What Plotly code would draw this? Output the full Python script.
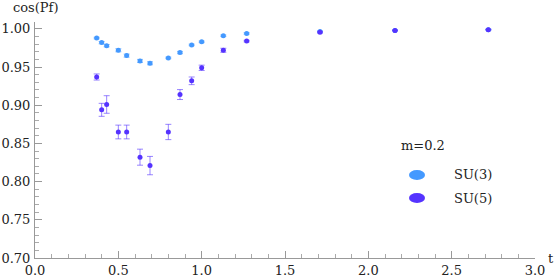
import plotly.graph_objects as go

t = [0.37, 0.40, 0.43, 0.50, 0.55, 0.63, 0.69, 0.80, 0.87, 0.94, 1.00, 1.13, 1.27, 1.71, 2.16, 2.72]
su3 = [0.988, 0.982, 0.978, 0.972, 0.965, 0.958, 0.955, 0.962, 0.969, 0.979, 0.983, 0.991, 0.994, 0.9965, 0.998, 0.999]
su3_err = [0.001, 0.0015, 0.0015, 0.002, 0.002, 0.002, 0.002, 0.001, 0.0015, 0.001, 0.001, 0.001, 0.001, 0.001, 0.0005, 0.0005]
su5 = [0.937, 0.894, 0.901, 0.865, 0.865, 0.832, 0.821, 0.865, 0.914, 0.932, 0.949, 0.972, 0.984, 0.9955, 0.998, 0.999]
su5_err = [0.004, 0.0085, 0.0115, 0.009, 0.009, 0.0105, 0.012, 0.01, 0.0065, 0.005, 0.0035, 0.0026, 0.001, 0.001, 0.0005, 0.0005]

c3 = "#4499ff"
c5 = "#5533ff"
font = "DejaVu Serif, Liberation Serif, serif"
fs = 13

fig = go.Figure()
fig.add_trace(go.Scatter(
    x=t, y=su3, mode="markers", name="SU(3)", showlegend=False,
    marker=dict(color=c3, size=5),
    error_y=dict(type="data", array=su3_err, color="rgba(68,153,255,0.6)", thickness=1, width=3),
))
fig.add_trace(go.Scatter(
    x=t, y=su5, mode="markers", name="SU(5)", showlegend=False,
    marker=dict(color=c5, size=5),
    error_y=dict(type="data", array=su5_err, color="rgba(85,51,255,0.6)", thickness=1, width=3),
))

axis_common = dict(
    showline=True, linecolor="#999999", linewidth=1,
    ticks="inside", tickcolor="#999999", ticklen=7, tickwidth=1,
    showgrid=False, zeroline=False, automargin=False,
    tickfont=dict(family=font, size=fs, color="#222222"),
)
fig.update_xaxes(range=[0, 3], dtick=0.5, tick0=0, tickformat=".1f", ticklabelstandoff=0,
                 minor=dict(dtick=0.1, ticks="inside", ticklen=4, tickcolor="#aaaaaa"),
                 **axis_common)
fig.update_yaxes(range=[0.70, 1.009], dtick=0.05, tick0=0.70, tickformat=".2f", ticklabelstandoff=1,
                 minor=dict(dtick=0.01, ticks="inside", ticklen=4, tickcolor="#aaaaaa"),
                 **axis_common)

fig.update_layout(
    width=554, height=277,
    margin=dict(l=35, r=19, t=22, b=19),
    paper_bgcolor="white", plot_bgcolor="white",
    font=dict(family=font, size=fs, color="#222222"),
    annotations=[
        dict(text="cos(Pf)", xref="paper", yref="paper", x=-0.048, y=1.0, xanchor="left", yanchor="bottom",
             yshift=5, showarrow=False, font=dict(family=font, size=fs)),
        dict(text="t", xref="paper", yref="paper", x=1.0, y=0.0, xanchor="center", yanchor="middle",
             xshift=16, showarrow=False, font=dict(family=font, size=fs)),
        dict(text="m=0.2", xref="paper", yref="paper", x=0.776, y=0.475, xanchor="center", yanchor="middle",
             showarrow=False, font=dict(family=font, size=fs)),
        dict(text="SU(3)", xref="paper", yref="paper", x=0.834, y=0.352, xanchor="left", yanchor="middle",
             showarrow=False, font=dict(family=font, size=fs)),
        dict(text="SU(5)", xref="paper", yref="paper", x=0.834, y=0.254, xanchor="left", yanchor="middle",
             showarrow=False, font=dict(family=font, size=fs)),
    ],
    shapes=[
        dict(type="circle", xref="paper", yref="paper", x0=0.748, x1=0.78, y0=0.331, y1=0.373,
             fillcolor=c3, line=dict(width=0)),
        dict(type="circle", xref="paper", yref="paper", x0=0.748, x1=0.78, y0=0.233, y1=0.275,
             fillcolor=c5, line=dict(width=0)),
    ],
)

# remove the browser's default 8px page margin so the figure fills the window
fig.write_html("out.html", config={"displayModeBar": False, "staticPlot": True},
               post_script="document.body.style.margin='0';document.body.style.overflow='hidden';")
